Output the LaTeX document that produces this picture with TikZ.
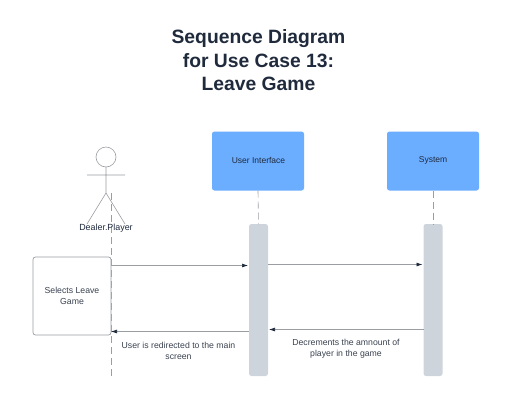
\documentclass[tikz,border=0pt]{standalone}
\usepackage{fontspec}
\setmainfont{Liberation Sans}
\usetikzlibrary{arrows.meta}
\definecolor{ink}{HTML}{1F2A3C}
\definecolor{txt}{HTML}{3A4250}
\definecolor{blu}{HTML}{6BADFF}
\definecolor{act}{HTML}{CED4DB}
\definecolor{ln}{HTML}{9A9DA2}
\tikzset{x=1pt,y=-1pt,
  every node/.style={inner sep=0pt,outer sep=0pt,align=center},
  lab/.style={font=\fontsize{8.7}{10.6}\selectfont,text=txt},
  actorline/.style={draw=ln,line width=0.6pt},
  life/.style={draw=ln,line width=0.6pt,dash pattern=on 7pt off 4pt},
  head/.style={draw=none,fill=blu,rounded corners=2.5pt,minimum width=92pt,minimum height=59pt},
  bar/.style={draw=none,fill=act,rounded corners=2.5pt,minimum width=19pt,minimum height=152pt},
  msg/.style={draw=ln,line width=0.7pt,-{Latex[length=6pt,width=4pt,color=ink]},shorten >=1pt}}
\begin{document}
\begin{tikzpicture}
\useasboundingbox (0,0) rectangle (512,405);
\node[text=ink,font=\fontsize{19.3}{23.5}\bfseries\selectfont] (title) at (258.5,60.5) {Sequence Diagram\\for Use Case 13:\\Leave Game};
% actor
\node[circle,draw=ln,line width=0.6pt,minimum size=20pt] (ahead) at (106,157) {};
\coordinate (hip) at (106,193);
\coordinate (armL) at (87,175);
\coordinate (armR) at (125,175);
\coordinate (legL) at (87,224);
\coordinate (legR) at (125,224);
\draw[actorline] (ahead.south) -- (hip) (armL) -- (armR) (legL) -- (hip) -- (legR);
% lifelines
\coordinate (l0t) at (111,193);
\coordinate (l0b) at (111,376);
\node[head] (ui) at (258,161) {};
\node[head] (sys) at (433,161) {};
\node[bar] (uibar) at (258.5,300) {};
\node[bar] (sysbar) at (433,300) {};
\draw[life] (l0t) -- (l0b);
\draw[life] (ui.south) -- (uibar.north);
\draw[life] (sys.south) -- (sysbar.north);
\node[font=\fontsize{8.9}{10}\selectfont,text=ink] (alab) at (106,228) {Dealer.Player};
\node[font=\fontsize{8.5}{10}\selectfont,text=ink] (uilab) at (258.5,160.5) {User Interface};
\node[font=\fontsize{8.5}{10}\selectfont,text=ink] (syslab) at (433,160.5) {System};
% box
\node[draw=ln,fill=white,line width=0.7pt,rounded corners=2.5pt,minimum width=78pt,minimum height=78pt,lab] (sel) at (72,296) {Selects Leave\\Game};
% messages
\coordinate (m1s) at (111,265.5);
\coordinate (m1e) at (249,265.5);
\coordinate (m2s) at (268,264.5);
\coordinate (m2e) at (423.5,264.5);
\coordinate (m3s) at (423.5,329.5);
\coordinate (m3e) at (268,329.5);
\coordinate (m4s) at (249,331.5);
\coordinate (m4e) at (110,331.5);
\draw[msg] (m1s) -- (m1e);
\draw[msg] (m2s) -- (m2e);
\draw[msg] (m3s) -- (m3e);
\draw[msg] (m4s) -- (m4e);
\node[lab] (l3) at (346,348.5) {Decrements the amnount of\\player in the game};
\node[lab] (l4) at (178.5,351) {User is redirected to the main\\screen};
\end{tikzpicture}
\end{document}
